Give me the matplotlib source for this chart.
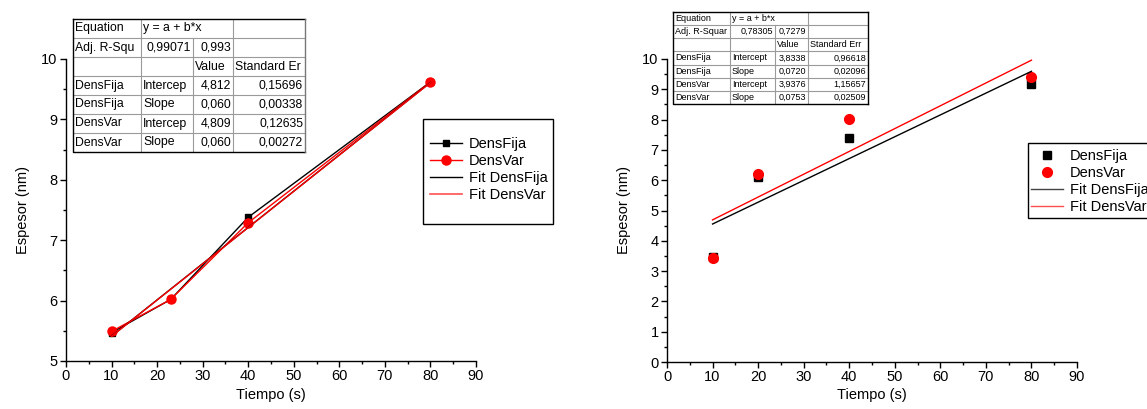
import matplotlib
matplotlib.use("Agg")
import matplotlib.pyplot as plt
from matplotlib.lines import Line2D
from matplotlib.patches import Rectangle
from matplotlib.ticker import MultipleLocator

plt.rcParams['font.family'] = ['Liberation Sans', 'DejaVu Sans']

# ---- datos: espesor vs tiempo -------------------------------------------
t_fija_a = [10, 23, 40, 80]
esp_fija_a = [5.47, 6.02, 7.38, 9.62]
t_var_a = [10, 23, 40, 80]
esp_var_a = [5.49, 6.02, 7.29, 9.62]

t_fija_b = [10, 20, 40, 80]
esp_fija_b = [3.45, 6.09, 7.38, 9.17]
t_var_b = [10, 20, 40, 80]
esp_var_b = [3.44, 6.20, 8.02, 9.40]

# parámetros de los ajustes lineales (y = a + b*x)
fit_a = {"DensFija": (4.812, 0.060), "DensVar": (4.809, 0.060)}
fit_b = {"DensFija": (3.8338, 0.0720), "DensVar": (3.9376, 0.0753)}
fit_range = [10, 80]

# tablas de resultados del ajuste
tabla_a = [
    ["Equation", "y = a + b*x", None, ""],
    ["Adj. R-Squ", "0,99071", "0,993", ""],
    ["", "", "Value", "Standard Er"],
    ["DensFija", "Intercep", "4,812", "0,15696"],
    ["DensFija", "Slope", "0,060", "0,00338"],
    ["DensVar", "Intercep", "4,809", "0,12635"],
    ["DensVar", "Slope", "0,060", "0,00272"],
]
tabla_b = [
    ["Equation", "y = a + b*x", None, ""],
    ["Adj. R-Squar", "0,78305", "0,7279", ""],
    ["", "", "Value", "Standard Err"],
    ["DensFija", "Intercept", "3,8338", "0,96618"],
    ["DensFija", "Slope", "0,0720", "0,02096"],
    ["DensVar", "Intercept", "3,9376", "1,15657"],
    ["DensVar", "Slope", "0,0753", "0,02509"],
]

W, H = 1147, 409
fig = plt.figure(figsize=(W / 100, H / 100), dpi=100)


def px_axes(x0, y0, x1, y1):
    return fig.add_axes([x0 / W, 1 - y1 / H, (x1 - x0) / W, (y1 - y0) / H])


def style_axes(ax, ylim, ymaj, ymin):
    ax.set_xlim(0, 90)
    ax.set_ylim(*ylim)
    ax.xaxis.set_major_locator(MultipleLocator(10))
    ax.xaxis.set_minor_locator(MultipleLocator(5))
    ax.yaxis.set_major_locator(MultipleLocator(ymaj))
    ax.yaxis.set_minor_locator(MultipleLocator(ymin))
    for s in ("top", "right"):
        ax.spines[s].set_visible(False)
    for s in ("left", "bottom"):
        ax.spines[s].set_linewidth(1.0)
    ax.tick_params(which="major", direction="out", length=4, width=1,
                   labelsize=10.5, pad=2)
    ax.tick_params(which="minor", direction="out", length=2.5, width=1)
    ax.set_xlabel("Tiempo (s)", fontsize=10.5, labelpad=3)
    ax.set_ylabel("Espesor (nm)", fontsize=10.5, labelpad=8)


def fit_line(params):
    a, b = params
    return [a + b * x for x in fit_range]


# ---- panel izquierdo -----------------------------------------------------
ax1 = px_axes(66, 59, 476, 361)
style_axes(ax1, (5, 10), 1, 0.5)
ax1.plot(t_fija_a, esp_fija_a, "-s", color="black", ms=5, lw=1)
ax1.plot(t_var_a, esp_var_a, "-o", color="red", ms=6.5, lw=1)
ax1.plot(fit_range, fit_line(fit_a["DensFija"]), color="black", lw=1)
ax1.plot(fit_range, fit_line(fit_a["DensVar"]), color="red", lw=1)

# ---- panel derecho -------------------------------------------------------
ax2 = px_axes(667, 59, 1077, 362)
style_axes(ax2, (0, 10), 1, 0.5)
ax2.plot(t_fija_b, esp_fija_b, "s", color="black", ms=6)
ax2.plot(t_var_b, esp_var_b, "o", color="red", ms=7)
ax2.plot(fit_range, fit_line(fit_b["DensFija"]), color="black", lw=1)
ax2.plot(fit_range, fit_line(fit_b["DensVar"]), color="red", lw=1)

# capa en píxeles para tablas y marcos de leyenda
ov = fig.add_axes([0, 0, 1, 1], zorder=10)
ov.set_xlim(0, W)
ov.set_ylim(H, 0)
ov.axis("off")
ov.patch.set_alpha(0)


def draw_table(rows, cols, y0, y1, fs, right_border="#777777"):
    nrow = len(rows)
    rh = (y1 - y0) / nrow
    ov.add_patch(Rectangle((cols[0], y0), cols[-1] - cols[0], y1 - y0,
                           facecolor="white", edgecolor="none"))
    # líneas internas
    for i in range(1, nrow):
        ov.plot([cols[0], cols[-1]], [y0 + i * rh] * 2, color="#9a9a9a", lw=0.8)
    for j in range(1, len(cols) - 1):
        for i, row in enumerate(rows):
            if j == 2 and row[2] is None:
                continue
            ov.plot([cols[j]] * 2, [y0 + i * rh, y0 + (i + 1) * rh],
                    color="#9a9a9a", lw=0.8)
    # borde exterior
    ov.plot([cols[0], cols[0], cols[-1]], [y0, y1, y1], color="black", lw=1)
    ov.plot([cols[0], cols[-1]], [y0, y0], color="black", lw=1)
    ov.plot([cols[-1], cols[-1]], [y0, y1], color=right_border, lw=1)
    for i, row in enumerate(rows):
        yc = y0 + (i + 0.5) * rh
        for j, txt in enumerate(row):
            if not txt:
                continue
            numeric = txt[0].isdigit()
            if numeric:
                ov.text(cols[j + 1] - 2, yc, txt, ha="right", va="center",
                        fontsize=fs)
            else:
                ov.text(cols[j] + 2, yc, txt, ha="left", va="center",
                        fontsize=fs)


draw_table(tabla_a, [73, 141, 193, 233, 305], 19, 152, 8.8)
draw_table(tabla_b, [673, 730, 775, 808, 868], 12, 104, 6.5,
           right_border="black")

# ---- leyendas --------------------------------------------------------------
h_a = [
    Line2D([], [], color="black", marker="s", ms=5, lw=1),
    Line2D([], [], color="red", marker="o", ms=6.5, lw=1),
    Line2D([], [], color="black", lw=1),
    Line2D([], [], color="#ff5050", lw=1.2),
]
h_b = [
    Line2D([], [], color="black", marker="s", ms=6, lw=0),
    Line2D([], [], color="red", marker="o", ms=7, lw=0),
    Line2D([], [], color="#444444", lw=1),
    Line2D([], [], color="#ff5050", lw=1),
]
labels = ["DensFija", "DensVar", "Fit DensFija", "Fit DensVar"]

ov.add_patch(Rectangle((423, 119), 130, 105, facecolor="white",
                       edgecolor="black", lw=1, zorder=1))
ov.add_patch(Rectangle((1028, 143), 140, 75, facecolor="white",
                       edgecolor="black", lw=1, zorder=1))

leg_a = ov.legend(h_a, labels, loc="upper left", frameon=False,
                  bbox_to_anchor=(430 / W, 1 - 137 / H), borderaxespad=0,
                  borderpad=0, fontsize=10.5, handlelength=2.2,
                  handletextpad=0.45, labelspacing=0.2)
ov.add_artist(leg_a)
ov.legend(h_b, labels, loc="upper left", frameon=False,
          bbox_to_anchor=(1031 / W, 1 - 149 / H), borderaxespad=0,
          borderpad=0, fontsize=10.5, handlelength=2.2,
          handletextpad=0.45, labelspacing=0.2)

fig.savefig("out.png", dpi=100)
